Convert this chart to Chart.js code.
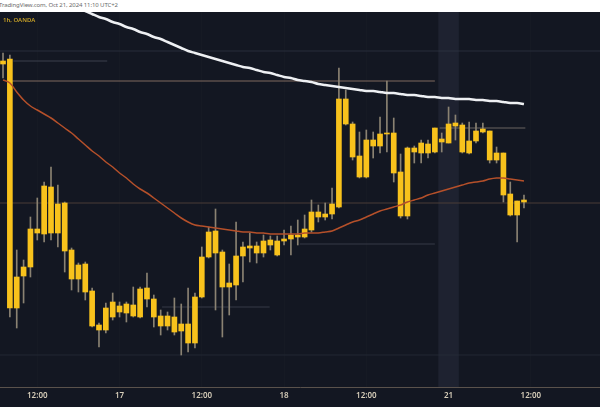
<!DOCTYPE html>
<html>
<head>
<meta charset="utf-8">
<script src="https://cdn.jsdelivr.net/npm/chart.js@4.4.1/dist/chart.umd.min.js"></script>
<style>
  html, body { margin: 0; padding: 0; background: #fff; }
  #wrap { position: relative; width: 600px; height: 420px; overflow: hidden; font-family: 'Noto Sans', sans-serif; }
  #stamp { position: absolute; left: -1px; top: 2px; font-size: 6px; line-height: 7px; color: #6a6a6a; white-space: nowrap; letter-spacing: -0.1px; }
  #panel { position: absolute; left: 0; top: 12px; width: 600px; height: 395px; background: #131722; }
  #sym { position: absolute; left: 3px; top: 5px; font-size: 6px; line-height: 7px; font-weight: 600; color: #c9a227; z-index: 2; }
  canvas { display: block; }
</style>
</head>
<body>
<div id="wrap">
  <div id="stamp">TradingView.com, Oct 21, 2024 11:10 UTC+2</div>
  <div id="panel">
    <div id="sym">1h, OANDA</div>
    <canvas id="chart" width="600" height="395"></canvas>
  </div>
</div>
<script>
// hourly candles
const open = [336, 341, 92, 124, 133, 171, 166, 213, 167, 197,
  150, 121, 136, 109, 75, 70, 83, 94, 87, 95,
  83, 112, 101, 84, 74, 83, 69, 76, 57, 103,
  143, 169, 148, 113, 115, 144, 152, 154, 147, 155,
  159, 159, 161, 163, 163, 170, 188, 183, 186, 193,
  301, 276, 244, 223, 260, 254, 266, 267, 228, 184,
  248, 247, 256, 248, 261, 257, 274, 275, 247, 259,
  268, 269, 240, 247, 206, 185, 198];
const high = [347, 345, 150, 140, 183, 202, 218, 233, 215, 198,
  152, 137, 138, 112, 77, 97, 107, 98, 98, 113,
  113, 127, 105, 90, 88, 102, 96, 112, 107, 153,
  173, 191, 150, 136, 178, 158, 167, 158, 165, 164,
  164, 170, 174, 180, 185, 200, 195, 197, 212, 332,
  310, 278, 268, 270, 268, 283, 319, 282, 246, 253,
  254, 260, 260, 272, 267, 293, 285, 277, 278, 277,
  277, 269, 253, 247, 218, 199, 205];
const low = [322, 83, 72, 97, 123, 160, 158, 160, 153, 128,
  110, 108, 100, 73, 53, 67, 80, 83, 78, 83,
  82, 93, 73, 65, 70, 65, 45, 48, 52, 102,
  142, 90, 63, 85, 100, 118, 138, 137, 143, 150,
  144, 155, 145, 155, 162, 168, 178, 180, 181, 192,
  275, 240, 222, 222, 242, 247, 248, 218, 182, 181,
  237, 237, 242, 247, 248, 257, 260, 247, 246, 257,
  267, 237, 237, 198, 184, 158, 192];
const close = [339, 92, 123, 133, 171, 167, 214, 167, 196, 149,
  121, 135, 108, 74, 70, 92, 98, 88, 96, 84,
  111, 101, 83, 74, 84, 68, 76, 57, 103, 143,
  168, 147, 113, 117, 144, 153, 154, 147, 159, 160,
  145, 161, 165, 165, 171, 188, 183, 186, 196, 301,
  276, 243, 223, 260, 254, 266, 267, 227, 184, 252,
  252, 257, 247, 272, 258, 276, 277, 248, 259, 269,
  271, 240, 247, 205, 185, 199, 200];

// moving averages
const maSlow = [418, 415, 413, 410, 407, 405, 402, 400, 397, 395,
  393, 391, 389, 386, 383, 381, 378, 376, 373, 371,
  368, 366, 363, 361, 358, 355, 352, 349, 347, 345,
  343, 341, 339, 337, 335, 333, 332, 330, 328, 327,
  325, 323, 322, 320, 319, 318, 316, 315, 314, 313,
  312, 311, 310, 309, 309, 308, 307, 307, 306, 305,
  305, 304, 303, 303, 302, 302, 301, 301, 301, 300,
  300, 299, 299, 298, 297, 297, 296];
const maFast = [320, 317, 308, 300, 294, 290, 286, 282, 277, 272,
  267, 261, 255, 249, 244, 238, 233, 227, 222, 216,
  211, 207, 202, 197, 192, 187, 182, 178, 175, 174,
  173, 172, 171, 170, 169, 168, 168, 167, 167, 166,
  166, 166, 166, 166, 167, 167, 167, 168, 169, 172,
  175, 178, 180, 183, 186, 189, 191, 193, 195, 198,
  200, 202, 205, 207, 209, 211, 213, 215, 217, 218,
  219, 221, 222, 222, 221, 220, 219];

// x axis labels (bar index -> text)
const tickIdx = [5, 17, 29, 41, 53, 65, 77];
const tickText = ['12:00', '17', '12:00', '18', '12:00', '21', '12:00'];

// drawn horizontal levels
const levelValue = [349, 339, 319, 272, 197, 156, 93, 45];
const levelFrom = [-1, 1.5, 1, 63.7, -1, 43.3, 23.2, -1];
const levelTo = [88, 15.2, 63, 76.2, 88, 63, 38.9, 88];
const levelColor = ['rgba(50,55,68,0.7)', 'rgba(70,75,88,0.8)', '#806b5e', '#6b6460',
  '#4a3d36', '#363a46', '#363a46', 'rgba(42,46,57,0.7)'];

// highlighted session
const bandFrom = 63.5, bandTo = 66.5;

const xMin = -0.44, xMax = 87.09;

const idx = open.map((_, i) => i);

const bandPlugin = {
  id: 'band',
  beforeDatasetsDraw(chart) {
    const { ctx, chartArea, scales } = chart;
    const x0 = scales.x.getPixelForValue(bandFrom);
    const x1 = scales.x.getPixelForValue(bandTo);
    ctx.save();
    ctx.fillStyle = '#1e2230';
    ctx.fillRect(x0, chartArea.top, x1 - x0, chartArea.bottom - chartArea.top);
    ctx.restore();
  }
};

const levelSets = levelValue.map((v, k) => ({
  type: 'line',
  data: [{ x: levelFrom[k], y: v }, { x: levelTo[k], y: v }],
  borderColor: levelColor[k],
  borderWidth: 1,
  pointRadius: 0,
  order: 3
}));

new Chart(document.getElementById('chart'), {
  type: 'bar',
  data: {
    datasets: [
      {
        type: 'line',
        data: idx.map(i => ({ x: i, y: maSlow[i] })),
        borderColor: '#eef0f3',
        borderWidth: 2.5,
        pointRadius: 0,
        tension: 0.3,
        order: 0
      },
      {
        type: 'line',
        data: idx.map(i => ({ x: i, y: maFast[i] })),
        borderColor: '#b5502a',
        borderWidth: 1.5,
        pointRadius: 0,
        tension: 0.3,
        order: 0
      },
      {
        data: idx.map(i => ({ x: i, y: [Math.min(open[i], close[i]), Math.max(open[i], close[i])] })),
        backgroundColor: '#f8c21c',
        barThickness: 5,
        grouped: false,
        order: 1
      },
      {
        data: idx.map(i => ({ x: i, y: [low[i], high[i]] })),
        backgroundColor: '#8a8272',
        barThickness: 1,
        grouped: false,
        order: 2
      },
      ...levelSets
    ]
  },
  options: {
    responsive: false,
    animation: false,
    layout: { padding: 0 },
    plugins: {
      legend: { display: false },
      tooltip: { enabled: false }
    },
    scales: {
      x: {
        type: 'linear',
        min: xMin,
        max: xMax,
        offset: false,
        afterBuildTicks(scale) {
          scale.ticks = tickIdx.map(v => ({ value: v }));
        },
        afterFit(scale) {
          scale.height = 20;
        },
        grid: {
          offset: false,
          color: 'rgba(42,46,57,0.15)',
          drawTicks: false
        },
        border: { display: true, color: '#5a524c' },
        ticks: {
          padding: 4,
          color: '#d6cdb9',
          font: { family: 'Noto Sans', size: 8, weight: '600' },
          maxRotation: 0,
          autoSkip: false,
          callback: (value) => tickText[tickIdx.indexOf(value)]
        }
      },
      y: {
        display: false,
        min: 13,
        max: 388
      }
    }
  },
  plugins: [bandPlugin]
});
</script>
</body>
</html>
